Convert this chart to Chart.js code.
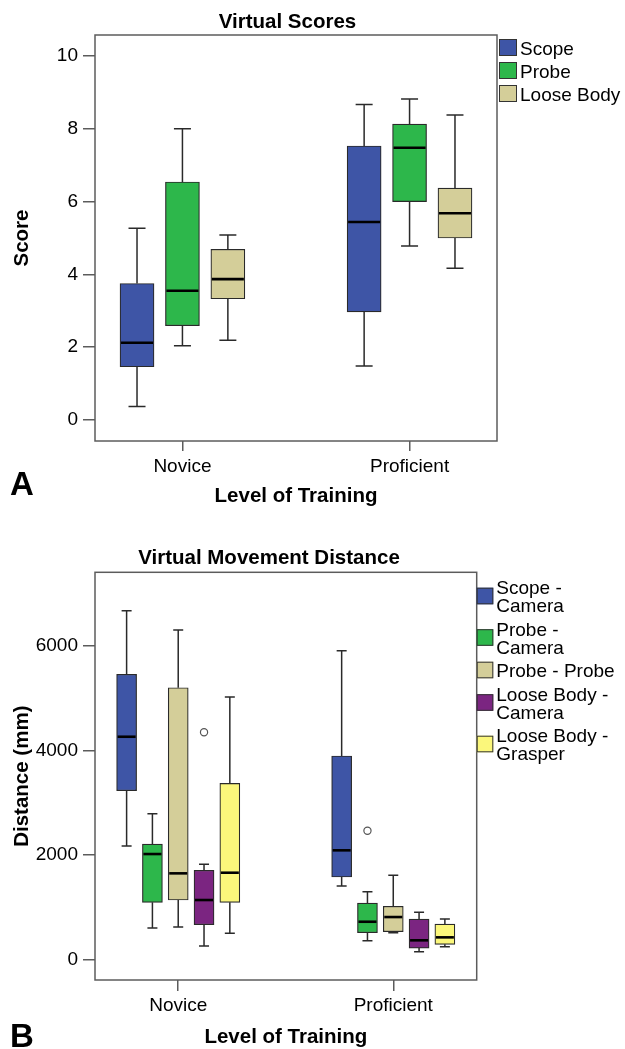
<!DOCTYPE html>
<html>
<head>
<meta charset="utf-8">
<title>Virtual Scores / Virtual Movement Distance</title>
<script src="https://cdn.jsdelivr.net/npm/chart.js@4.4.0/dist/chart.umd.min.js"></script>
<style>
  body { margin: 0; background: #fff; }
  .panel { position: absolute; left: 0; width: 625px; }
</style>
</head>
<body>
<div class="panel" style="top:0;height:520px"><canvas id="scoresChart"></canvas></div>
<div class="panel" style="top:520px;height:529px"><canvas id="distanceChart"></canvas></div>
<script>
// ---- data ----
const levels = ['Novice', 'Proficient'];

// Panel A: five-number summaries [min, q1, median, q3, max] per level
const scoreSeries = ['Scope', 'Probe', 'Loose Body'];
const scoreTicks = [0, 2, 4, 6, 8, 10];
const scoreScope = [[0.37, 1.46, 2.12, 3.75, 5.27], [1.48, 2.97, 5.44, 7.53, 8.67]];
const scoreProbe = [[2.04, 2.59, 3.55, 6.54, 8.0], [4.78, 6.0, 7.48, 8.13, 8.82]];
const scoreLoose = [[2.19, 3.33, 3.87, 4.69, 5.08], [4.17, 5.0, 5.68, 6.37, 8.38]];

// Panel B
const distSeries = ['Scope - Camera', 'Probe - Camera', 'Probe - Probe', 'Loose Body - Camera', 'Loose Body - Grasper'];
const distTicks = [0, 2000, 4000, 6000];
const distScopeCamera = [[2170, 3230, 4264, 5460, 6678], [1404, 1577, 2088, 3895, 5912]];
const distProbeCamera = [[600, 1092, 2017, 2209, 2789], [356, 510, 720, 1078, 1295]];
const distProbeProbe = [[619, 1136, 1647, 5203, 6308], [510, 529, 810, 1015, 1609]];
const distLooseCamera = [[255, 663, 1136, 1705, 1820], [146, 216, 364, 772, 900]];
const distLooseGrasper = [[498, 1092, 1659, 3371, 5025], [241, 287, 421, 676, 772]];
// outliers as [level index, value]
const distOutProbeCamera = [[1, 2464]];
const distOutLooseCamera = [[0, 4349]];

// ---- style ----
const FONT = "'Liberation Sans', Arial, sans-serif";
const AXIS = '#5c5c5c';
const colorsA = ['#3E55A6', '#2DB74B', '#D4CE99'];
const colorsB = ['#3E55A6', '#2DB74B', '#D4CE99', '#7B2581', '#FBF77B'];

// draws whiskers + median on top of the floating bars
const boxWhiskers = {
    id: 'boxWhiskers',
    afterDatasetsDraw(chart) {
        const { ctx } = chart;
        const y = chart.scales.y;
        ctx.save();
        chart.data.datasets.forEach((ds, di) => {
            if (!ds.stats) return;
            const meta = chart.getDatasetMeta(di);
            ds.stats.forEach((s, k) => {
                const bar = meta.data[k];
                const cx = bar.x, half = bar.width / 2, cap = bar.width / 4;
                const [lo, q1, med, q3, hi] = s.map(v => y.getPixelForValue(v));
                ctx.strokeStyle = '#2a2a2a';
                ctx.lineWidth = 1.5;
                ctx.beginPath();
                ctx.moveTo(cx, q3); ctx.lineTo(cx, hi);
                ctx.moveTo(cx - cap, hi); ctx.lineTo(cx + cap, hi);
                ctx.moveTo(cx, q1); ctx.lineTo(cx, lo);
                ctx.moveTo(cx - cap, lo); ctx.lineTo(cx + cap, lo);
                ctx.stroke();
                ctx.strokeStyle = '#000';
                ctx.lineWidth = 2.6;
                ctx.beginPath();
                ctx.moveTo(cx - half + 1, med); ctx.lineTo(cx + half - 1, med);
                ctx.stroke();
            });
        });
        ctx.restore();
    }
};

// frame, title, panel letter and legend
const panelDecor = {
    id: 'panelDecor',
    afterDraw(chart, args, opts) {
        const { ctx, chartArea: a } = chart;
        ctx.save();
        ctx.strokeStyle = AXIS;
        ctx.lineWidth = 1.5;
        ctx.strokeRect(a.left, a.top, a.right - a.left, a.bottom - a.top);

        ctx.fillStyle = '#000';
        ctx.textBaseline = 'alphabetic';
        ctx.textAlign = 'center';
        ctx.font = `bold 20.5px ${FONT}`;
        ctx.fillText(opts.title, opts.titleX, opts.titleY);

        ctx.textAlign = 'left';
        ctx.font = `bold 33px ${FONT}`;
        ctx.fillText(opts.letter, 10, opts.letterY);

        // legend
        const lg = opts.legend;
        ctx.font = `19px ${FONT}`;
        ctx.textBaseline = 'middle';
        const textX = a.right + lg.dx + lg.sw + 3;
        const maxW = chart.width - textX - 2;
        let yy = a.top + lg.first;
        lg.labels.forEach((label, i) => {
            let lines = [label];
            if (ctx.measureText(label).width > maxW) {
                const cut = label.lastIndexOf(' - ');
                lines = [label.slice(0, cut + 2), label.slice(cut + 3)];
            }
            const sy = yy + (lines.length - 1) * lg.lh / 2 + lg.sdy;
            ctx.fillStyle = lg.colors[i];
            ctx.fillRect(a.right + lg.dx, sy - lg.sh / 2, lg.sw, lg.sh);
            ctx.strokeStyle = '#333';
            ctx.lineWidth = 1;
            ctx.strokeRect(a.right + lg.dx + 0.5, sy - lg.sh / 2 + 0.5, lg.sw - 1, lg.sh - 1);
            ctx.fillStyle = '#000';
            lines.forEach((ln, j) => ctx.fillText(ln, textX, yy + j * lg.lh));
            yy += (lines.length - 1) * lg.lh + lg.gap;
        });
        ctx.restore();
    }
};

function boxDatasets(seriesNames, statsList, colors, offsets, barWidth) {
    return seriesNames.map((name, i) => ({
        type: 'bar',
        label: name,
        stats: statsList[i],
        data: statsList[i].map((s, k) => ({ x: k + offsets[i], y: [s[1], s[3]] })),
        backgroundColor: colors[i],
        borderColor: '#2a2a2a',
        borderWidth: 1.2,
        borderSkipped: false,
        grouped: false,
        barPercentage: 1,
        categoryPercentage: 1,
        maxBarThickness: barWidth
    }));
}

function outlierDataset(points, offset) {
    return {
        type: 'scatter',
        data: points.map(p => ({ x: p[0] + offset, y: p[1] })),
        pointStyle: 'circle',
        pointRadius: 3.6,
        backgroundColor: '#fff',
        borderColor: '#555',
        borderWidth: 1.2
    };
}

function buildOptions(cfg) {
    const tickFont = { family: FONT, size: 19 };
    const titleFont = { family: FONT, size: 20.5, weight: 'bold', lineHeight: 1 };
    return {
        responsive: true,
        maintainAspectRatio: false,
        animation: false,
        layout: { padding: cfg.padding },
        plugins: {
            legend: { display: false },
            title: { display: false },
            tooltip: { enabled: false },
            panelDecor: cfg.decor
        },
        scales: {
            x: {
                type: 'linear',
                min: cfg.xMin,
                max: cfg.xMax,
                offset: false,
                afterBuildTicks: s => { s.ticks = levels.map((_, i) => ({ value: i })); },
                afterFit: s => { s.height = cfg.xHeight; },
                ticks: { font: tickFont, color: '#000', padding: cfg.xPad, maxRotation: 0, autoSkip: false, callback: v => levels[v] },
                grid: { offset: false, drawOnChartArea: false, tickLength: cfg.xTick, color: AXIS, lineWidth: 1.5 },
                border: { display: false },
                title: { display: true, text: 'Level of Training', color: '#000', font: titleFont, padding: { top: 0, bottom: cfg.xTitlePad } }
            },
            y: {
                min: cfg.yMin,
                max: cfg.yMax,
                afterBuildTicks: s => { s.ticks = cfg.yTicks.map(v => ({ value: v })); },
                afterFit: s => { s.width = 95; },
                ticks: { font: tickFont, color: '#000', padding: 5, callback: v => String(v) },
                grid: { drawOnChartArea: false, tickLength: 12, color: AXIS, lineWidth: 1.5 },
                border: { display: false },
                title: { display: true, text: cfg.yTitle, color: '#000', font: titleFont, padding: { top: 12.5, bottom: 0 } }
            }
        }
    };
}

// ---- Panel A ----
const offsetsA = [-0.2, 0, 0.2];
new Chart(document.getElementById('scoresChart'), {
    type: 'bar',
    data: {
        datasets: boxDatasets(scoreSeries, [scoreScope, scoreProbe, scoreLoose], colorsA, offsetsA, 34)
    },
    options: buildOptions({
        padding: { top: 35, right: 128, bottom: 0, left: 0 },
        xMin: -0.385, xMax: 1.385, xHeight: 79, xPad: 4, xTick: 10, xTitlePad: 13,
        yMin: -0.58, yMax: 10.58, yTicks: scoreTicks, yTitle: 'Score',
        decor: {
            title: 'Virtual Scores', titleX: 287.5, titleY: 28,
            letter: 'A', letterY: 495,
            legend: { labels: scoreSeries, colors: colorsA, dx: 2, sw: 18, sh: 17, first: 14.5, lh: 18, gap: 23, sdy: -2 }
        }
    }),
    plugins: [boxWhiskers, panelDecor]
});

// ---- Panel B ----
const offsetsB = [-0.24, -0.12, 0, 0.12, 0.24];
new Chart(document.getElementById('distanceChart'), {
    type: 'bar',
    data: {
        datasets: [
            ...boxDatasets(distSeries,
                [distScopeCamera, distProbeCamera, distProbeProbe, distLooseCamera, distLooseGrasper],
                colorsB, offsetsB, 20),
            outlierDataset(distOutProbeCamera, offsetsB[1]),
            outlierDataset(distOutLooseCamera, offsetsB[3])
        ]
    },
    options: buildOptions({
        padding: { top: 52.3, right: 148.3, bottom: 0, left: 0 },
        xMin: -0.387, xMax: 1.388, xHeight: 69, xPad: 3, xTick: 11, xTitlePad: 1,
        yMin: -396, yMax: 7414, yTicks: distTicks, yTitle: 'Distance (mm)',
        decor: {
            title: 'Virtual Movement Distance', titleX: 269, titleY: 44,
            letter: 'B', letterY: 527,
            legend: { labels: distSeries, colors: colorsB, dx: 0, sw: 16.6, sh: 16.6, first: 16.7, lh: 18, gap: 23.5, sdy: -2 }
        }
    }),
    plugins: [boxWhiskers, panelDecor]
});
</script>
</body>
</html>
